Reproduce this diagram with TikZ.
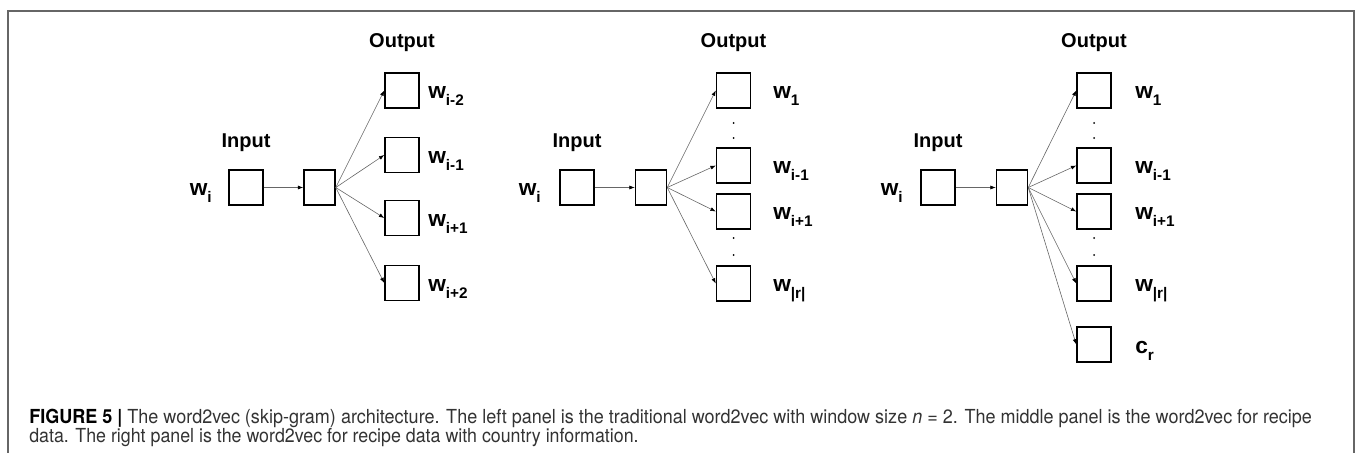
\documentclass[tikz,border=0pt]{standalone}
\usepackage{fontspec}
\usepackage{graphicx}
\newfontfamily\labfont{Liberation Sans}
\newfontfamily\capfont{TeX Gyre Heros}
\usetikzlibrary{arrows.meta}

\newcommand{\wsub}[2]{#1\raisebox{-0.32em}{\fontsize{11.5}{12}\selectfont #2}}
% caption line stretched to a given width, height kept
\newcommand{\capline}[2]{\resizebox{#1}{\height}{#2}}

\begin{document}
\begin{tikzpicture}[x=0.75pt, y=-0.75pt,
  box/.style={draw, line width=1.1pt, fill=white, minimum width=25.5pt, minimum height=26.25pt, inner sep=0pt},
  hid/.style={box, minimum width=23.25pt},
  ttl/.style={font=\labfont\bfseries\fontsize{15}{17}\selectfont, anchor=base, inner sep=0pt},
  wlab/.style={font=\labfont\bfseries\fontsize{17}{20}\selectfont, anchor=base west, inner sep=0pt},
  dotc/.style={circle, fill, inner sep=0pt, minimum size=1.5pt},
  link/.style={draw=black!60, line width=0.45pt, -{Latex[black, length=4pt, width=3pt]}},
  captxt/.style={font=\capfont\fontsize{14.5}{17}\selectfont, text=black!80, anchor=base west, inner sep=0pt}]

\useasboundingbox (0,0) rectangle (1357,453);
\draw[black!60, line width=1.1pt] (1354,453) -- (1354,11) -- (8,11) -- (8,453);

% left panel
\path (402,48) node[ttl] (outA) {Output}
      (246,147) node[ttl] (inpA) {Input}

      (246,187.5) node[box] (inA) {}
      (319.5,187.5) node[hid] (hA) {}
      (402,90.5) node[box] (oA1) {}
      (402,155) node[box] (oA2) {}
      (402,218) node[box] (oA3) {}
      (402,283) node[box] (oA4) {}

      (212,195) node[wlab, anchor=base east] (wA) {\wsub{w}{i}}
      (428,98.5) node[wlab] (lA1) {\wsub{w}{i-2}}
      (428,163) node[wlab] (lA2) {\wsub{w}{i-1}}
      (428,226) node[wlab] (lA3) {\wsub{w}{i+1}}
      (428,291) node[wlab] (lA4) {\wsub{w}{i+2}};

\draw[link] (inA) -- (hA);
\draw[link] (hA.east) -- (oA1.west);
\draw[link] (hA.east) -- (oA2.west);
\draw[link] (hA.east) -- (oA3.west);
\draw[link] (hA.east) -- (oA4.west);

% middle panel
\path (733.5,48) node[ttl] (outB) {Output}
      (577,147) node[ttl] (inpB) {Input}

      (577,187.5) node[box] (inB) {}
      (651,187.5) node[hid] (hB) {}
      (733.5,90.5) node[box] (oB1) {}
      (733.5,165.5) node[box] (oB2) {}
      (733.5,211.5) node[box] (oB3) {}
      (733.5,283.5) node[box] (oB4) {}

      (733.5,123) node[dotc] (dB1) {}
      (733.5,138) node[dotc] (dB2) {}
      (733.5,238) node[dotc] (dB3) {}
      (733.5,255) node[dotc] (dB4) {}

      (541,195) node[wlab, anchor=base east] (wB) {\wsub{w}{i}}
      (773,98.5) node[wlab] (lB1) {\wsub{w}{1}}
      (773,173.5) node[wlab] (lB2) {\wsub{w}{i-1}}
      (773,219.5) node[wlab] (lB3) {\wsub{w}{i+1}}
      (773,291.5) node[wlab] (lB4) {\wsub{w}{|r|}};

\draw[link] (inB) -- (hB);
\draw[link] (hB.east) -- (oB1.west);
\draw[link] (hB.east) -- (oB2.west);
\draw[link] (hB.east) -- (oB3.west);
\draw[link] (hB.east) -- (oB4.west);

% right panel
\path (1094,48) node[ttl] (outC) {Output}
      (938,147) node[ttl] (inpC) {Input}

      (938,187.5) node[box] (inC) {}
      (1012,187.5) node[hid] (hC) {}
      (1094,90.5) node[box] (oC1) {}
      (1094,165.5) node[box] (oC2) {}
      (1094,211.5) node[box] (oC3) {}
      (1094,283.5) node[box] (oC4) {}
      (1094,344.5) node[box] (oC5) {}

      (1094,123) node[dotc] (dC1) {}
      (1094,138) node[dotc] (dC2) {}
      (1094,238) node[dotc] (dC3) {}
      (1094,255) node[dotc] (dC4) {}

      (903,195) node[wlab, anchor=base east] (wC) {\wsub{w}{i}}
      (1135,98.5) node[wlab] (lC1) {\wsub{w}{1}}
      (1135,173.5) node[wlab] (lC2) {\wsub{w}{i-1}}
      (1135,219.5) node[wlab] (lC3) {\wsub{w}{i+1}}
      (1135,291.5) node[wlab] (lC4) {\wsub{w}{|r|}}
      (1135,353) node[wlab] (lC5) {\wsub{c}{r}};

\draw[link] (inC) -- (hC);
\draw[link] (hC.east) -- (oC1.west);
\draw[link] (hC.east) -- (oC2.west);
\draw[link] (hC.east) -- (oC3.west);
\draw[link] (hC.east) -- (oC4.west);
\draw[link] (hC.east) -- (oC5.west);

% caption
\path (29,423) node[captxt] (capA) {\capline{962pt}{{\bfseries\color{black}FIGURE 5 |} The word2vec (skip-gram) architecture. The left panel is the traditional word2vec with window size \textit{n} = 2. The middle panel is the word2vec for recipe}}
      (29,442) node[captxt] (capB) {\capline{457pt}{data. The right panel is the word2vec for recipe data with country information.}};

\end{tikzpicture}
\end{document}
